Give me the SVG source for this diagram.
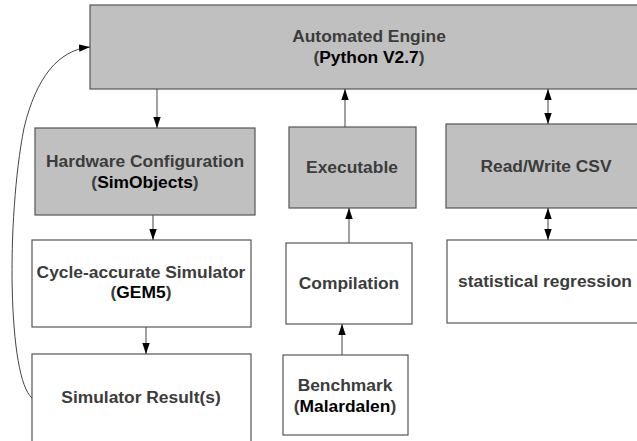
<svg xmlns="http://www.w3.org/2000/svg" width="637" height="441" viewBox="0 0 637 441">
<style>
.g{fill:#c0c0c0;stroke:#555;stroke-width:1.2}
.w{fill:#fff;stroke:#555;stroke-width:1.2}
text{font-family:"Liberation Sans",Arial,sans-serif;font-weight:bold;font-size:17.4px;fill:#3c3c3c;text-anchor:middle}
.k{fill:#000}
.c{fill:none;stroke:#444;stroke-width:1}
</style>
<defs>
<marker id="a" viewBox="0 0 11 10" refX="11" refY="5" markerWidth="11" markerHeight="10" markerUnits="userSpaceOnUse" orient="auto-start-reverse">
<path d="M0,1.3 L11,5 L0,8.7 Z" fill="#000"/>
</marker>
</defs>
<rect width="637" height="441" fill="#fff"/>
<g id="engine"><rect class="g" x="90" y="5" width="560" height="84"/>
<text x="369" y="42">Automated Engine</text>
<text x="369" y="63">(<tspan class="k">Python V2.7</tspan>)</text></g>
<g id="hw"><rect class="g" x="35" y="128" width="220" height="87"/>
<text x="145" y="167">Hardware Configuration</text>
<text x="145" y="188">(<tspan class="k">SimObjects</tspan>)</text></g>
<g id="exe"><rect class="g" x="289" y="127" width="127" height="81"/>
<text x="352" y="173">Executable</text></g>
<g id="csv"><rect class="g" x="446" y="124" width="204" height="84"/>
<text x="546" y="172">Read/Write CSV</text></g>
<g id="sim"><rect class="w" x="32" y="240" width="219" height="87"/>
<text x="141" y="278">Cycle-accurate Simulator</text>
<text x="141" y="298">(<tspan class="k">GEM5</tspan>)</text></g>
<g id="comp"><rect class="w" x="286" y="243" width="126" height="81"/>
<text x="349" y="289">Compilation</text></g>
<g id="stat"><rect class="w" x="447" y="240" width="203" height="83"/>
<text x="545" y="287">statistical regression</text></g>
<g id="res"><rect class="w" x="32" y="354" width="219" height="100"/>
<text x="141" y="403">Simulator Result(s)</text></g>
<g id="bench"><rect class="w" x="283" y="355" width="125" height="80"/>
<text x="345" y="391">Benchmark</text>
<text x="345" y="412">(<tspan class="k">Malardalen</tspan>)</text></g>
<g id="connectors">
<path class="c" d="M157,89 V128" marker-end="url(#a)"/>
<path class="c" d="M153,215 V240" marker-end="url(#a)"/>
<path class="c" d="M146,327 V354" marker-end="url(#a)"/>
<path class="c" d="M345,127 V89" marker-end="url(#a)"/>
<path class="c" d="M349,243 V208" marker-end="url(#a)"/>
<path class="c" d="M342,355 V324" marker-end="url(#a)"/>
<path class="c" d="M548,89 V124" marker-start="url(#a)" marker-end="url(#a)"/>
<path class="c" d="M548,208 V240" marker-start="url(#a)" marker-end="url(#a)"/>
<path class="c" d="M32,398 C8,378 6,220 24,128 C36,78 58,50 90,47" marker-end="url(#a)"/>
</g>
</svg>
